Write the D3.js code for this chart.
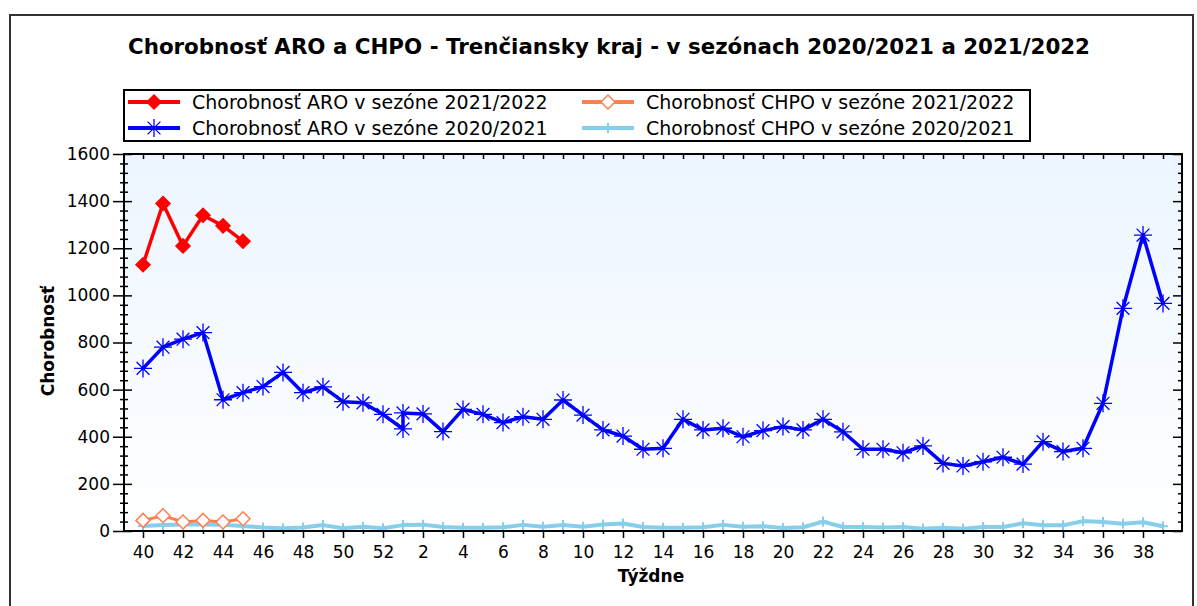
<!DOCTYPE html>
<html>
<head>
<meta charset="utf-8">
<script src="https://cdn.jsdelivr.net/npm/d3@7"></script>
<style>
  body { margin: 0; background: #fff; }
  svg text { font-family: "DejaVu Sans", sans-serif; fill: #000; }
</style>
</head>
<body>
<svg id="chart" width="1197" height="606"></svg>
<script>
// x categories (weeks of the season, 40..52 then 1..39)
const weeks = ["40","41","42","43","44","45","46","47","48","49","50","51","52",
  "1","2","3","4","5","6","7","8","9","10","11","12","13","14","15","16","17","18","19",
  "20","21","22","23","24","25","26","27","28","29","30","31","32","33","34","35","36","37","38","39"];
const weekLabels = ["40","42","44","46","48","50","52","2","4","6","8","10","12","14","16","18",
  "20","22","24","26","28","30","32","34","36","38"];

// season 2021/2022
const weeks2122 = ["40","41","42","43","44","45"];
const aro2122  = [1130, 1390, 1210, 1340, 1295, 1230];
const chpo2122 = [45, 65, 38, 45, 38, 52];

// season 2020/2021 (ARO has week 53, drawn in the slot of week 1)
const weeksAro2021 = ["40","41","42","43","44","45","46","47","48","49","50","51","52","53",
  "1","2","3","4","5","6","7","8","9","10","11","12","13","14","15","16","17","18","19",
  "20","21","22","23","24","25","26","27","28","29","30","31","32","33","34","35","36","37","38","39"];
const aro2021 = [690, 780, 814, 842, 557, 587, 613, 673, 587, 612, 549, 544, 495, 433,
  501, 497, 422, 516, 495, 460, 485, 474, 556, 492, 429, 403, 347, 351, 474, 429, 436, 400, 426,
  443, 429, 474, 421, 347, 347, 332, 361, 287, 276, 294, 313, 284, 379, 337, 351, 542, 945, 1256, 966];
const chpo2021 = [21, 25, 28, 28, 26, 21, 15, 12, 15, 25, 12, 18, 12,
  25, 27, 17, 14, 14, 16, 26, 18, 25, 18, 28, 32, 17,
  14, 14, 16, 26, 18, 20, 13, 16, 40, 17, 17, 15, 17,
  10, 14, 10, 17, 17, 33, 24, 24, 42, 38, 31, 37, 20];

const yMajor = [0, 200, 400, 600, 800, 1000, 1200, 1400, 1600];
const yMinor = [40, 80, 120, 160, 240, 280, 320, 360, 440, 480, 520, 560, 640, 680, 720, 760,
  840, 880, 920, 960, 1040, 1080, 1120, 1160, 1240, 1280, 1320, 1360, 1440, 1480, 1520, 1560];

const series = [
  { name: "Chorobnosť ARO v sezóne 2021/2022",  color: "#ff0000", marker: "diamond", fill: "#ff0000" },
  { name: "Chorobnosť CHPO v sezóne 2021/2022", color: "#ff7f50", marker: "diamond", fill: "#ffffff" },
  { name: "Chorobnosť ARO v sezóne 2020/2021",  color: "#0000ff", marker: "star" },
  { name: "Chorobnosť CHPO v sezóne 2020/2021", color: "#87ceeb", marker: "plus" }
];

const svg = d3.select("#chart");
const plot = { left: 124, right: 1182, top: 154, bottom: 531 };

const x = d3.scalePoint().domain(weeks).range([plot.left, plot.right]).padding(0.95);
const y = d3.scaleLinear().domain([0, 1600]).range([plot.bottom, plot.top]);
const xPos = (w) => x(w === "53" ? "1" : w);

const markerPath = {
  diamond: "M0,-7L7,0L0,7L-7,0Z",
  star: "M-9,0H9M0,-9V9M-6.4,-6.4L6.4,6.4M-6.4,6.4L6.4,-6.4",
  plus: "M0,-5V5M-5,0H5"
};
const markerWidth = (m) => (m === "star" ? 1.3 : (m === "plus" ? 2 : 1.5));

// outer frame
svg.append("rect")
  .attr("x", 10).attr("y", 15).attr("width", 1183).attr("height", 600)
  .attr("fill", "none").attr("stroke", "#333").attr("stroke-width", 2);

// title
svg.append("text")
  .attr("x", 609).attr("y", 47)
  .attr("text-anchor", "middle").attr("dominant-baseline", "central")
  .attr("font-size", 21).attr("font-weight", "bold")
  .attr("textLength", 962).attr("lengthAdjust", "spacingAndGlyphs")
  .text("Chorobnosť ARO a CHPO - Trenčiansky kraj  - v sezónach 2020/2021 a 2021/2022");

// plot background
const grad = svg.append("defs").append("linearGradient")
  .attr("id", "bg").attr("x1", 0).attr("y1", 0).attr("x2", 0).attr("y2", 1);
grad.append("stop").attr("offset", "0%").attr("stop-color", "#ecf5ff");
grad.append("stop").attr("offset", "100%").attr("stop-color", "#ffffff");

svg.append("rect")
  .attr("x", plot.left).attr("y", plot.top)
  .attr("width", plot.right - plot.left).attr("height", plot.bottom - plot.top)
  .attr("fill", "url(#bg)");

// series
const drawSeries = (s, ws, vals, lineWidth) => {
  const pts = ws.map((w, i) => [xPos(w), y(vals[i])]);
  svg.append("path")
    .attr("d", d3.line()(pts))
    .attr("fill", "none").attr("stroke", s.color)
    .attr("stroke-width", lineWidth).attr("stroke-linejoin", "round");
  svg.append("g").selectAll("path").data(pts).join("path")
    .attr("transform", (d) => `translate(${d[0]},${d[1]})`)
    .attr("d", markerPath[s.marker])
    .attr("fill", s.marker === "diamond" ? s.fill : "none")
    .attr("stroke", s.color)
    .attr("stroke-width", markerWidth(s.marker));
};

drawSeries(series[3], weeks, chpo2021, 4);
drawSeries(series[2], weeksAro2021, aro2021, 3.5);
drawSeries(series[1], weeks2122, chpo2122, 3);
drawSeries(series[0], weeks2122, aro2122, 3.5);

// axes
const tidy = (g) => { g.select(".domain").remove(); g.selectAll("line").attr("stroke", "#000").attr("stroke-width", 1.5); };

// left: majors with labels (outside), inner halves, minors
svg.append("g").attr("transform", `translate(${plot.left},0)`)
  .call(d3.axisLeft(y).tickValues(yMajor).tickSize(11).tickPadding(3).tickFormat(d3.format("d")))
  .call(tidy)
  .call((g) => g.selectAll("text").attr("font-size", 17).attr("font-family", "DejaVu Sans"));
svg.append("g").attr("transform", `translate(${plot.left},0)`)
  .call(d3.axisRight(y).tickValues(yMajor).tickSize(8).tickFormat(""))
  .call(tidy);
svg.append("g").attr("transform", `translate(${plot.left},0)`)
  .call(d3.axisLeft(y).tickValues(yMinor).tickSize(4).tickFormat(""))
  .call(tidy);
svg.append("g").attr("transform", `translate(${plot.left},0)`)
  .call(d3.axisRight(y).tickValues(yMinor).tickSize(4).tickFormat(""))
  .call(tidy);

// right: inward ticks
svg.append("g").attr("transform", `translate(${plot.right},0)`)
  .call(d3.axisLeft(y).tickValues(yMajor).tickSize(9).tickFormat(""))
  .call(tidy);
svg.append("g").attr("transform", `translate(${plot.right},0)`)
  .call(d3.axisLeft(y).tickValues(yMinor).tickSize(4).tickFormat(""))
  .call(tidy);

// top: inward ticks every week
svg.append("g").attr("transform", `translate(0,${plot.top})`)
  .call(d3.axisBottom(x).tickSize(5).tickFormat(""))
  .call(tidy);

// bottom: labelled weeks long ticks, others short
svg.append("g").attr("transform", `translate(0,${plot.bottom})`)
  .call(d3.axisBottom(x).tickValues(weeks.filter((w) => !weekLabels.includes(w))).tickSize(3).tickFormat(""))
  .call(tidy);
svg.append("g").attr("transform", `translate(0,${plot.bottom})`)
  .call(d3.axisBottom(x).tickValues(weekLabels).tickSize(7).tickPadding(8))
  .call(tidy)
  .call((g) => g.selectAll("text").attr("font-size", 17).attr("font-family", "DejaVu Sans"));

// plot frame
svg.append("rect")
  .attr("x", plot.left).attr("y", plot.top)
  .attr("width", plot.right - plot.left).attr("height", plot.bottom - plot.top)
  .attr("fill", "none").attr("stroke", "#000").attr("stroke-width", 2);

// axis titles
svg.append("text")
  .attr("transform", "translate(48,341) rotate(-90)")
  .attr("text-anchor", "middle").attr("dominant-baseline", "central")
  .attr("font-size", 17).attr("font-weight", "bold")
  .text("Chorobnosť");
svg.append("text")
  .attr("x", 651).attr("y", 576)
  .attr("text-anchor", "middle").attr("dominant-baseline", "central")
  .attr("font-size", 17).attr("font-weight", "bold")
  .text("Týždne");

// legend
const legend = svg.append("g");
legend.append("rect")
  .attr("x", 124).attr("y", 90).attr("width", 906).attr("height", 51)
  .attr("fill", "#fff").attr("stroke", "#000").attr("stroke-width", 2);

const legendPos = [
  { s: series[0], x: 128, y: 102 },
  { s: series[1], x: 582, y: 102 },
  { s: series[2], x: 128, y: 128 },
  { s: series[3], x: 582, y: 128 }
];
legendPos.forEach((d) => {
  const g = legend.append("g").attr("transform", `translate(${d.x},${d.y})`);
  g.append("line").attr("x1", 0).attr("x2", 52).attr("y1", 0).attr("y2", 0)
    .attr("stroke", d.s.color).attr("stroke-width", 4);
  g.append("path").attr("transform", "translate(26,0)")
    .attr("d", markerPath[d.s.marker])
    .attr("fill", d.s.marker === "diamond" ? d.s.fill : "none")
    .attr("stroke", d.s.color)
    .attr("stroke-width", markerWidth(d.s.marker));
  g.append("text").attr("x", 64).attr("y", 0)
    .attr("dominant-baseline", "central")
    .attr("font-size", 19)
    .text(d.s.name);
});
</script>
</body>
</html>
